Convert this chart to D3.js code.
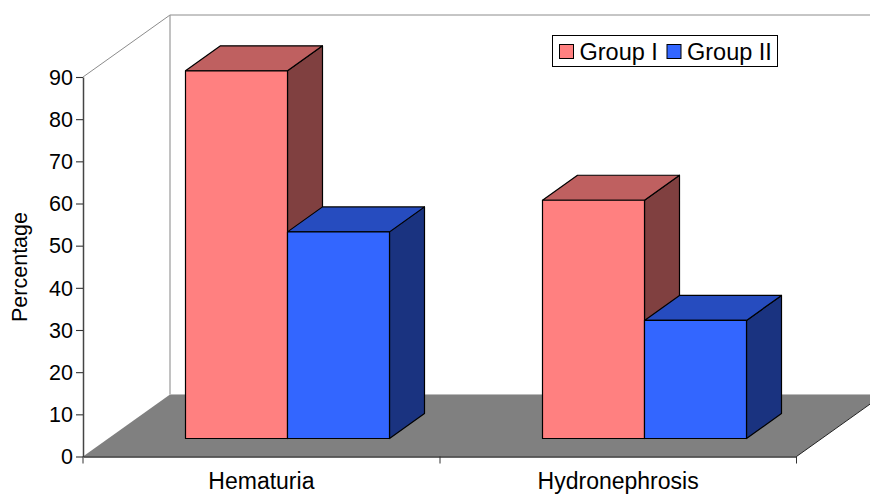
<!DOCTYPE html>
<html><head><meta charset="utf-8">
<script src="https://cdnjs.cloudflare.com/ajax/libs/d3/7.8.5/d3.min.js"></script>
<style>html,body{margin:0;padding:0;background:#fff}svg{display:block}text{font-family:"Liberation Sans",Arial,sans-serif;fill:#000}</style>
</head><body><svg id="c" width="870" height="494"></svg>
<script>
const categories = ["Hematuria", "Hydronephrosis"];
const seriesNames = ["Group I", "Group II"];
const groupI = [87.2, 56.5];
const groupII = [49, 28];
const yTicks = [0,10,20,30,40,50,60,70,80,90];
const frontColors = ["#ff8080", "#3366ff"];
const topColors = ["#bf6060", "#264cbf"];
const sideColors = ["#804040", "#1a3380"];

const svg = d3.select("#c");
const x0 = d3.scaleBand().domain(categories).range([83, 796.5]);
const y = d3.scaleLinear().domain([0, 90]).range([456.5, 77]);
const wallDX = 87, wallDY = -62;
const barShiftX = 26, barFrontUp = 18;
const barW = 102, barDX = 35, barDY = -25;
const gap = (x0.bandwidth() - 2*barW) / 2;
const x1 = d3.scaleBand().domain(seriesNames).range([0, 2*barW]);

// walls
svg.append("path").attr("d",`M83,${y(90)}L${83+wallDX},${y(90)+wallDY}L870,${y(90)+wallDY}`)
  .attr("fill","none").attr("stroke","#8c8c8c").attr("stroke-width",1);
svg.append("line").attr("x1",170).attr("x2",170).attr("y1",y(90)+wallDY).attr("y2",y(0)+wallDY).attr("stroke","#999").attr("stroke-width",1.2);

// floor
svg.append("path").attr("d",`M83,${y(0)}L${83+wallDX},${y(0)+wallDY}L${796.5+wallDX},${y(0)+wallDY}L796.5,${y(0)}Z`)
  .attr("fill","#808080");
svg.append("line").attr("x1",170).attr("x2",870).attr("y1",y(0)+wallDY).attr("y2",y(0)+wallDY).attr("stroke","#bbb").attr("stroke-width",1);
svg.append("line").attr("x1",796.5).attr("y1",y(0)).attr("x2",796.5+wallDX).attr("y2",y(0)+wallDY).attr("stroke","#222").attr("stroke-width",1);

// bars
const rows = categories.flatMap((c,i)=>[
  {c, s:seriesNames[0], v:groupI[i], k:0},
  {c, s:seriesNames[1], v:groupII[i], k:1}]);
const g = svg.append("g").attr("stroke","#000").attr("stroke-width",1.2).attr("stroke-linejoin","round");
rows.forEach(d=>{
  const l = Math.floor(x0(d.c)+gap+x1(d.s)+barShiftX)+0.5, r = l+barW;
  const b = y(0)-barFrontUp, t = b-(y(0)-y(d.v));
  g.append("path").attr("fill",sideColors[d.k]).attr("d",`M${r},${t}L${r+barDX},${t+barDY}L${r+barDX},${b+barDY}L${r},${b}Z`);
  g.append("path").attr("fill",topColors[d.k]).attr("d",`M${l},${t}L${l+barDX},${t+barDY}L${r+barDX},${t+barDY}L${r},${t}Z`);
  g.append("rect").attr("fill",frontColors[d.k]).attr("x",l).attr("y",t).attr("width",barW).attr("height",b-t);
});

// axes
const yAxis = d3.axisLeft(y).tickValues(yTicks).tickSize(7).tickPadding(3).tickSizeOuter(0);
const ya = svg.append("g").attr("transform","translate(83,0)").call(yAxis);
ya.selectAll("text").style("font-size","21.5px").attr("dy","0.34em");
ya.selectAll("line").attr("stroke","#333").attr("stroke-width",1.1);
ya.selectAll("path").attr("stroke","#444").attr("stroke-width",1.5);
const xAxis = d3.axisBottom(x0).tickSize(0).tickPadding(16);
const xa = svg.append("g").attr("transform",`translate(0,${y(0)})`).call(xAxis);
xa.selectAll("text").style("font-size","23px");
xa.selectAll("path").attr("stroke","#333").attr("stroke-width",1.6);
[83, 440, 796.5].forEach(v=>svg.append("line").attr("x1",v).attr("x2",v).attr("y1",y(0)).attr("y2",y(0)+7).attr("stroke","#333").attr("stroke-width",1));

svg.append("text").attr("transform","translate(27,267) rotate(-90)").attr("text-anchor","middle").style("font-size","21.5px").text("Percentage");

// legend
const lg = svg.append("g");
lg.append("rect").attr("x",552.5).attr("y",35.5).attr("width",225).attr("height",31).attr("fill","#fff").attr("stroke","#000").attr("stroke-width",1);
const legendX = [559.5, 667];
seriesNames.forEach((s,i)=>{
  lg.append("rect").attr("x",legendX[i]).attr("y",44.5).attr("width",14).attr("height",14).attr("fill",frontColors[i]).attr("stroke","#000");
  lg.append("text").attr("x",legendX[i]+20).attr("y",59.5).style("font-size","23.5px").text(s);
});
</script></body></html>
